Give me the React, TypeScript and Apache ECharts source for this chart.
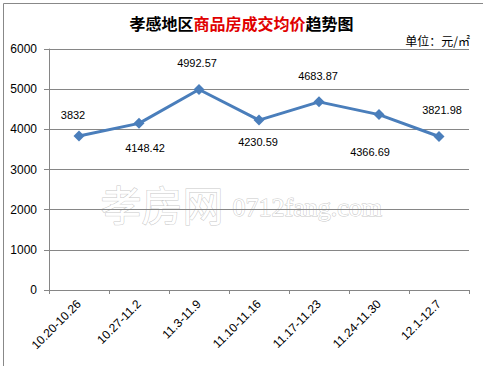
import React, { useEffect, useRef } from "react";
import * as echarts from "echarts";

const categories = ["10.20-10.26", "10.27-11.2", "11.3-11.9", "11.10-11.16", "11.17-11.23", "11.24-11.30", "12.1-12.7"];
const prices = [3832, 4148.42, 4992.57, 4230.59, 4683.87, 4366.69, 3821.98];
const labelOffsets = [[-6, -21], [6, 25], [-2, -26], [-1, 22], [-1, -26], [-9, 37], [3, -26]];
const yTicks = [0, 1000, 2000, 3000, 4000, 5000, 6000];

export default function App() {
  const ref = useRef<HTMLDivElement>(null);
  useEffect(() => {
    const chart = echarts.init(ref.current!, null, { renderer: "svg" });
    chart.setOption({
      animation: false,
      backgroundColor: "#fff",
      textStyle: { fontFamily: "Liberation Sans, Noto Sans CJK SC, sans-serif" },
      title: {
        text: "{b|孝感地区}{r|商品房成交均价}{b|趋势图}",
        left: "center",
        top: 10,
        textStyle: {
          rich: {
            b: { fontSize: 16, fontWeight: "bold", color: "#000", fontFamily: "Noto Sans CJK SC" },
            r: { fontSize: 16, fontWeight: "bold", color: "#e00000", fontFamily: "Noto Sans CJK SC" },
          },
        },
      },
      graphic: [
        { type: "rect", left: 1, top: 1, shape: { width: 481, height: 364 }, style: { fill: "none", stroke: "#888", lineWidth: 1 }, silent: true },
        { type: "text", right: 13, top: 34, style: { text: "单位：元/㎡", fontSize: 12, fill: "#000", fontFamily: "Noto Sans CJK SC" } },
        {
          type: "text", left: 100, top: 182, z: 0,
          style: { text: "孝房网", fontSize: 41, fill: "#fff", stroke: "#c8c8c8", lineWidth: 1, fontFamily: "Noto Sans CJK SC" },
        },
        {
          type: "text", left: 232, top: 194, z: 0,
          style: { text: "0712fang.com", fontSize: 26, fontFamily: "Liberation Serif", fill: "#fff", stroke: "#c8c8c8", lineWidth: 1 },
        },
      ],
      grid: { left: 49, right: 14, top: 49, bottom: 76 },
      xAxis: {
        type: "category",
        data: categories,
        boundaryGap: true,
        axisLine: { lineStyle: { color: "#868686" } },
        axisTick: { show: true, alignWithLabel: false, lineStyle: { color: "#868686" }, length: 4 },
        axisLabel: { rotate: 45, color: "#000", fontSize: 12, margin: 12, interval: 0 },
        splitLine: { show: false },
      },
      yAxis: {
        type: "value",
        min: 0,
        max: 6000,
        interval: 1000,
        axisLine: { show: true, lineStyle: { color: "#868686" } },
        axisTick: { show: true, inside: false, length: 5, lineStyle: { color: "#868686" } },
        axisLabel: { color: "#000", fontSize: 12, margin: 12, formatter: (v: number) => (yTicks.includes(v) ? String(v) : "") },
        splitLine: { lineStyle: { color: "#868686", width: 1 } },
      },
      series: [
        {
          type: "line",
          z: 5,
          data: prices.map((v, i) => ({
            value: v,
            label: {
              show: true,
              position: "inside",
              offset: labelOffsets[i],
              formatter: String(v),
              color: "#000",
              fontSize: 11,
            },
          })),
          symbol: "diamond",
          symbolSize: 11,
          lineStyle: { color: "#4a7ebb", width: 3 },
          itemStyle: { color: "#4a7ebb" },
        },
      ],
    });
    return () => chart.dispose();
  }, []);
  return <div ref={ref} style={{ width: 483, height: 366, position: "absolute", left: 0, top: 0 }} />;
}
